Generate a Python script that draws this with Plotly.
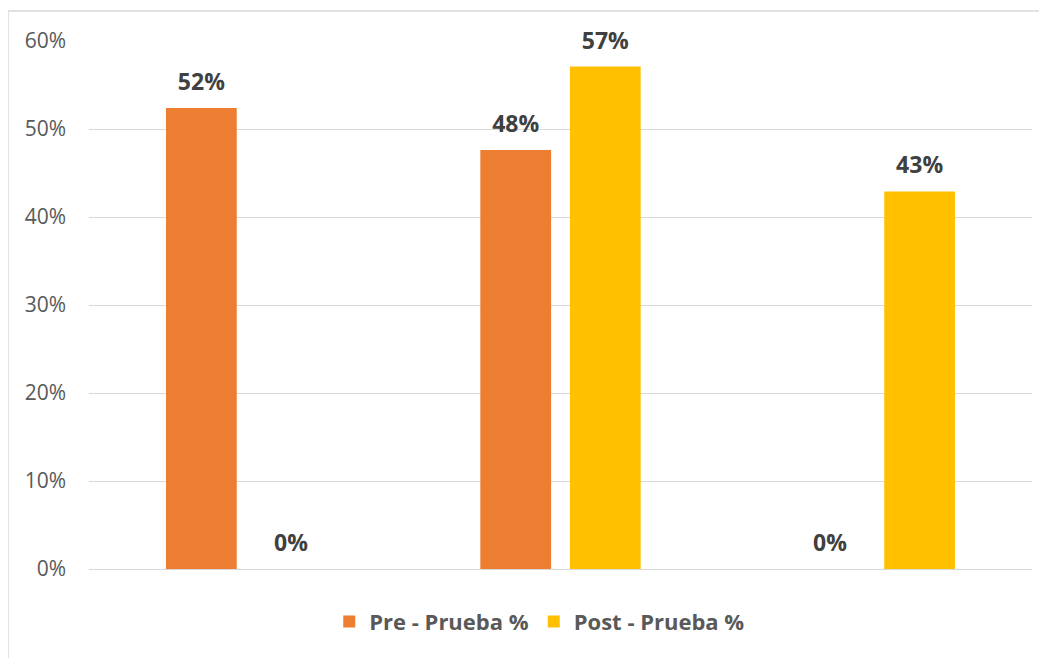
import plotly.graph_objects as go

categories = ["Nivel 1", "Nivel 2", "Nivel 3"]
pre_values = [0.524, 0.476, 0.0]
post_values = [0.0, 0.571, 0.429]
series_names = ["Pre - Prueba %", "Post - Prueba %"]
tick_vals = [0, 0.1, 0.2, 0.3, 0.4, 0.5, 0.6]
tick_text = ["0%", "10%", "20%", "30%", "40%", "50%", "60%"]

FONT = "Open Sans, Noto Sans, sans-serif"
BARGAP = 0.43

fig = go.Figure()
for i, (name, vals, color) in enumerate([(series_names[0], pre_values, "#ED7D31"),
                                         (series_names[1], post_values, "#FFC000")]):
    fig.add_trace(go.Bar(
        x=categories, y=vals, name=name,
        marker=dict(color=color, line=dict(width=0)),
        offsetgroup=str(i), alignmentgroup="g",
        hoverinfo="skip",
    ))
for i, vals in enumerate([pre_values, post_values]):
    fig.add_trace(go.Scatter(
        x=categories, y=vals, mode="markers+text",
        text=["<b>%d%%</b>" % round(v * 100) for v in vals],
        textposition="top center",
        marker=dict(size=18, opacity=0),
        offsetgroup=str(i), alignmentgroup="g",
        textfont=dict(family=FONT, size=23, color="#404040"),
        showlegend=False, cliponaxis=False, hoverinfo="skip",
    ))

fig.update_layout(
    width=1047, height=658,
    margin=dict(l=81, r=23, t=33, b=97),
    paper_bgcolor="white", plot_bgcolor="white",
    barmode="group", bargap=BARGAP, bargroupgap=0.21,
    scattermode="group", scattergap=BARGAP,
    font=dict(family=FONT, color="#595959"),
    showlegend=True,
    legend=dict(orientation="h", x=0.478, xanchor="center", y=-0.1, yanchor="middle",
                font=dict(family=FONT, size=22, color="#595959", weight="bold"),
                traceorder="normal", itemwidth=30),
    xaxis=dict(showticklabels=False, showgrid=False, zeroline=False, showline=False, ticks=""),
    yaxis=dict(range=[0, 0.6], tickvals=tick_vals, ticktext=tick_text,
               showgrid=True, gridcolor="#d9d9d9", gridwidth=1,
               zeroline=True, zerolinecolor="#d9d9d9", zerolinewidth=1,
               showline=False, ticks="", ticklabelstandoff=22,
               tickfont=dict(family=FONT, size=21, color="#595959")),
    shapes=[
        dict(type="line", xref="paper", yref="paper", x0=-0.0859, x1=1.1, y0=1.0568, y1=1.0568,
             line=dict(color="#d9d9d9", width=1.5)),
        dict(type="line", xref="paper", yref="paper", x0=-0.0859, x1=-0.0859, y0=1.0568, y1=-0.2,
             line=dict(color="#d9d9d9", width=1.5)),
    ],
)

fig.write_html("out.html")
